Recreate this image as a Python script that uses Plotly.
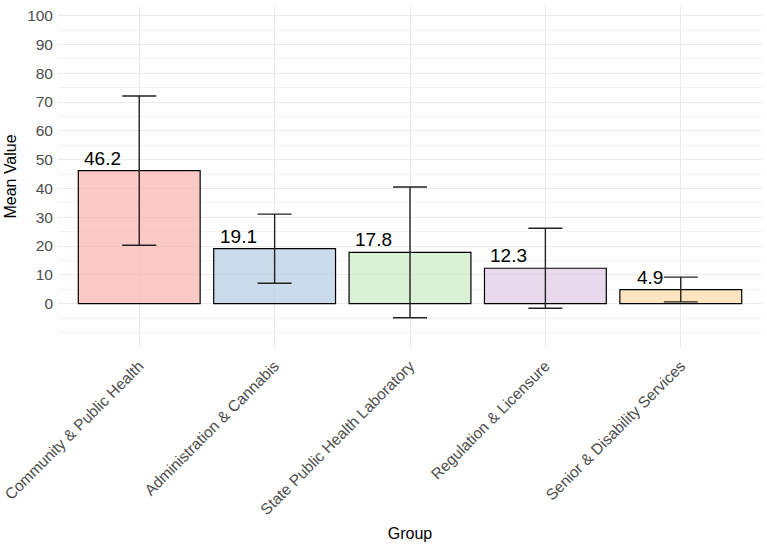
import plotly.graph_objects as go

groups = ["Community & Public Health", "Administration & Cannabis",
          "State Public Health Laboratory", "Regulation & Licensure",
          "Senior & Disability Services"]
means = [46.2, 19.1, 17.8, 12.3, 4.9]
errors = [25.9, 12.0, 22.7, 13.9, 4.3]
fills = ["rgba(251,180,174,0.7)", "rgba(179,205,227,0.7)", "rgba(204,235,197,0.7)",
         "rgba(222,203,228,0.7)", "rgba(254,217,166,0.7)"]
y_ticks = list(range(0, 101, 10))
y_minor = [-10, -5] + list(range(5, 100, 10))

FONT = "Liberation Sans, Arial, sans-serif"

fig = go.Figure()
fig.add_trace(go.Bar(
    x=groups, y=means, width=0.9,
    marker=dict(color=fills, line=dict(color="black", width=1.2)),
    error_y=dict(type="data", array=errors, visible=True,
                 color="#222222", thickness=1.4, width=17),
    showlegend=False,
))

for g, m in zip(groups, means):
    fig.add_annotation(x=g, y=m, text=f"{m}", showarrow=False,
                       xanchor="right", yanchor="bottom", xshift=-16, yshift=0,
                       font=dict(family=FONT, size=19, color="black"))

fig.update_layout(
    width=767, height=550,
    margin=dict(l=58, r=5, t=5, b=202),
    plot_bgcolor="white", paper_bgcolor="white",
    font=dict(family=FONT),
    xaxis=dict(
        title=dict(text="Group", font=dict(size=16, color="black"), standoff=10),
        range=[-0.6, 4.6], tickangle=-45, automargin=False,
        tickfont=dict(size=15.5, color="#4d4d4d"),
        ticklabelstandoff=5,
        showgrid=True, gridcolor="#ebebeb", gridwidth=1.2,
        ticks="", showline=False, zeroline=False,
    ),
    yaxis=dict(
        title=dict(text="Mean Value", font=dict(size=16, color="black"), standoff=6),
        range=[-15.4, 103.7], tickvals=y_ticks, automargin=False,
        tickfont=dict(size=15.5, color="#4d4d4d"),
        ticklabelstandoff=4,
        showgrid=True, gridcolor="#ebebeb", gridwidth=1.2,
        minor=dict(tickvals=y_minor, showgrid=True, gridcolor="#f3f3f3", gridwidth=0.8),
        ticks="", showline=False, zeroline=False,
    ),
)

fig.write_html("out.html")
